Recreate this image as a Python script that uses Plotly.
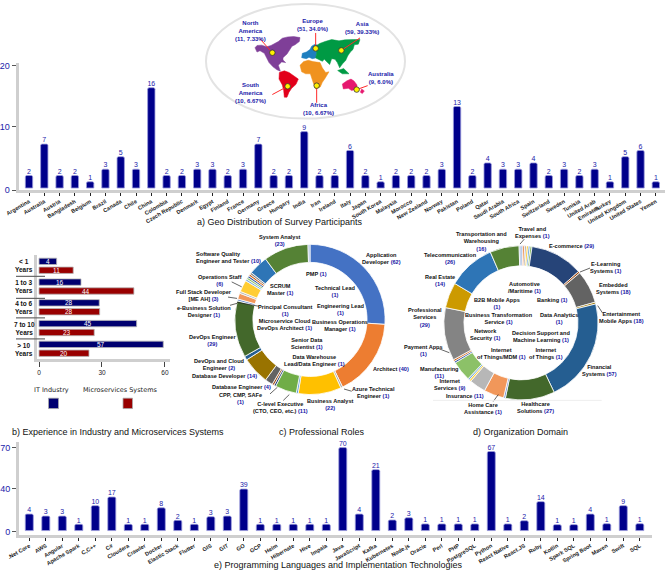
import plotly.graph_objects as go

W, H = 671, 582
FONT = "Liberation Sans"
NAVY = "#00008B"
RED = "#990000"
BLUE_TXT = "#2222AA"
COUNT_BLUE = "#1515A5"

# ---------- data ----------
countries = ["Argentina", "Australia", "Austria", "Bangladesh", "Belgium", "Brazil", "Canada", "Chile", "China",
             "Colombia", "Czech Republic", "Denmark", "Egypt", "Finland", "France", "Germany", "Greece", "Hungary",
             "India", "Iran", "Ireland", "Italy", "Japan", "South Korea", "Malaysia", "Morocco", "New Zealand",
             "Norway", "Pakistan", "Poland", "Qatar", "Saudi Arabia", "South Africa", "Spain", "Switzerland",
             "Sweden", "Tunisia", "United Arab<br>Emirates", "Turkey", "United Kingdom", "United States", "Yemen"]
country_values = [2, 7, 2, 2, 1, 3, 5, 3, 16, 2, 2, 3, 3, 2, 3, 7, 2, 2, 9, 2, 2, 6, 2, 1, 2, 2, 2, 3, 13, 2, 4, 3, 3,
                  4, 2, 3, 2, 3, 1, 5, 6, 1]

exp_categories = ["< 1", "1 to 3", "4 to 6", "7 to 10", "> 10"]
exp_it_labels = [4, 16, 28, 45, 57]
exp_ms_labels = [11, 44, 28, 23, 20]
exp_it_lengths = [8.4, 20, 28.7, 46.5, 59.2]
exp_ms_lengths = [16.3, 45.2, 28.9, 26.3, 23.8]

tech_names = [".Net Core", "AWS", "Angular", "Apache Spark", "C,C++", "C#", "Cloudera", "Crawler", "Docker",
              "Elastic Stack", "Flutter", "GIS", "GIT", "GO", "GCP", "Helm", "Hibernate", "Hive", "Impala", "Java",
              "JavaScript", "Kafka", "Kubernetes", "Node.js", "Oracle", "Perl", "PHP", "PostgreSQL", "Python",
              "React Native", "React.JS", "Ruby", "Kotlin", "Spark SQL", "Spring Boot", "Maven", "Swift", "SQL"]
tech_labels = [4, 3, 3, 1, 10, 17, 1, 1, 8, 2, 1, 3, 3, 39, 1, 1, 1, 1, 1, 70, 4, 21, 2, 3, 1, 1, 1, 1, 67, 1, 2, 14,
               1, 1, 4, 1, 9, 1]
tech_heights = [13.9, 12.2, 12.2, 5.3, 21, 28.3, 5.3, 5.3, 19.2, 8.6, 5.3, 11.7, 12.2, 35, 5.3, 5.3, 5.3, 5.3, 5.3,
                70, 13.9, 51.4, 8.9, 10.8, 5.6, 5.6, 5.6, 5.6, 66.7, 5.6, 8.3, 24.4, 5, 5, 13.9, 5.8, 21, 5.8]

role_names = ["Application<br>Developer", "Architect", "Azure Technical<br>Engineer", "Business Analyst<br>",
              "Business Operations<br>Manager", "C-level Executive<br>(CTO, CEO, etc.)", "CPP, CMP, SAFe<br>",
              "Data Warehouse<br>Lead/Data Engineer", "Database Engineer", "Database Developer",
              "DevOps and Cloud<br>Engineer", "DevOps Engineer<br>", "e-Business Solution<br>Designer",
              "Full Stack Developer<br>[ME AH]", "Microservice Cloud<br>DevOps Architect", "Operations Staff<br>",
              "PMP", "Principal Consultant<br>", "Senior Data<br>Scientist", "SCRUM<br>Master",
              "Engineering Lead<br>", "Software Quality<br>Engineer and Tester", "System Analyst<br>",
              "Technical Lead<br>"]
role_values = [62, 40, 1, 22, 1, 11, 1, 1, 4, 14, 2, 29, 1, 3, 1, 6, 1, 1, 1, 1, 1, 10, 23, 1]
role_colors = ["#4472C4", "#ED7D31", "#A5A5A5", "#FFC000", "#5B9BD5", "#70AD47", "#264478", "#9E480E", "#636363",
               "#997300", "#255E91", "#43682B", "#698ED0", "#F1975A", "#B7B7B7", "#FFCD33", "#7CAFDD", "#8CC168",
               "#335AA1", "#D26012", "#848484", "#2E75B6", "#558235", "#A3B9DE"]

domain_names = ["Automotive<br>/Maritime", "B2B Mobile Apps<br>", "Banking", "Business Transformation<br>Service",
                "Data Analytics<br>", "Decision Support and<br>Machine Learning", "E-commerce", "E-Learning<br>Systems",
                "Embedded<br>Systems", "Entertainment<br>Mobile Apps", "Financial<br>Systems", "Healthcare<br>Solutions",
                "Home Care<br>Assistance", "Insurance", "Internet<br>Services", "Internet<br>of Things",
                "Internet<br>of Things/MDM", "Manufacturing<br>", "Network<br>Security", "Payment Apps<br>",
                "Professional<br>Services<br>", "Real Estate<br>", "Telecommunication<br>",
                "Transportation and<br>Warehousing<br>", "Travel and<br>Expenses"]
domain_values = [1, 1, 1, 1, 1, 1, 29, 1, 18, 1, 57, 27, 1, 11, 9, 1, 1, 11, 1, 1, 29, 14, 26, 16, 1]
domain_shown = [1, 1, 1, 1, 1, 1, 29, 1, 18, 18, 57, 27, 1, 11, 9, 1, 1, 11, 1, 1, 29, 14, 26, 16, 1]
domain_colors = ["#4472C4", "#ED7D31", "#A5A5A5", "#FFC000", "#5B9BD5", "#70AD47", "#264478", "#9E480E", "#636363",
                 "#997300", "#255E91", "#43682B", "#698ED0", "#F1975A", "#B7B7B7", "#FFCD33", "#7CAFDD", "#8CC168",
                 "#335AA1", "#D26012", "#848484", "#CC9A00", "#2E75B6", "#558235", "#A3B9DE"]

# World map outlines (rough, in map units)
map_north_america = [(30, 55), (36, 48), (50, 47), (65, 52), (78, 48), (88, 42), (100, 36), (112, 26), (128, 22),
                     (146, 21), (165, 24), (163, 36), (150, 46), (141, 50), (132, 66), (126, 74), (114, 85),
                     (114, 92), (122, 100), (110, 98), (100, 108), (106, 126), (96, 122), (84, 113), (72, 100),
                     (64, 84), (58, 72), (45, 64), (36, 68)]
map_south_america = [(103, 130), (118, 125), (132, 130), (146, 140), (160, 150), (153, 166), (140, 178), (132, 190),
                     (126, 205), (118, 205), (116, 185), (112, 168), (102, 150)]
map_africa = [(165, 108), (176, 97), (190, 93), (204, 97), (225, 100), (232, 116), (242, 130), (252, 128),
              (240, 148), (232, 160), (226, 174), (212, 180), (206, 165), (200, 145), (196, 134), (182, 134),
              (170, 128)]
map_europe = [(170, 85), (172, 72), (184, 68), (195, 60), (200, 50), (210, 44), (220, 48), (215, 70), (212, 86),
              (202, 88), (192, 84), (184, 88)]
map_asia = [(212, 50), (224, 42), (240, 36), (260, 30), (282, 34), (300, 31), (325, 30), (345, 30), (340, 44),
            (328, 46), (324, 60), (316, 68), (308, 80), (302, 94), (292, 104), (284, 116), (277, 100), (270, 90),
            (260, 88), (254, 106), (246, 98), (238, 90), (232, 96), (222, 90), (212, 86), (215, 70)]
map_indonesia = [(278, 124), (296, 118), (312, 134), (292, 134)]
map_australia = [(292, 165), (306, 155), (318, 150), (327, 156), (336, 168), (336, 180), (320, 185), (310, 178),
                 (295, 180)]
map_new_zealand = [(350, 180), (358, 186), (352, 194), (346, 190)]
continent_names = ["North<br>America", "Europe", "Asia", "South<br>America", "Africa", "Australia"]
continent_counts = ["(11, 7.33%)", "(51, 34.0%)", "(59, 39.33%)", "(10, 6.67%)", "(10, 6.67%)", "(9, 6.0%)"]
continent_points = [(82, 70), (212, 57), (289, 63), (128, 172), (215, 170), (335, 182)]
continent_leaders = [(45, 28), (212, 10), (345, 25), (82, 197), (215, 222), (368, 170)]


# ---------- helpers ----------
def px_x(x):
    return x / W


def px_y(y):
    return 1 - y / H


annotations = []
shapes = []


def note(x, y, text, size=5.6, color="#111111", family=FONT, xanchor="center", align="center"):
    annotations.append(dict(x=px_x(x), y=px_y(y), xref="paper", yref="paper", text=text, showarrow=False,
                            xanchor=xanchor, yanchor="middle", align=align,
                            font=dict(family=family, size=size, color=color)))


def seg(x0, y0, x1, y1, color="#222222", width=0.7):
    shapes.append(dict(type="line", xref="paper", yref="paper", x0=px_x(x0), y0=px_y(y0), x1=px_x(x1), y1=px_y(y1),
                       line=dict(color=color, width=width)))


def count_label(name, n):
    sep = "" if name.endswith("<br>") else " "
    head = "<br>".join(f"<b>{p}</b>" if p else "" for p in name.split("<br>"))
    return f"{head}{sep}<span style='color:{COUNT_BLUE}'><b>({n})</b></span>"


fig = go.Figure()
axis_line = dict(showline=True, linecolor="#CFCFCF", linewidth=3, showgrid=False, zeroline=False)
y_tick = dict(ticks="outside", ticklen=4, tickwidth=1, tickcolor="#555555",
              tickfont=dict(family=FONT, size=9, color=BLUE_TXT), tickmode="array")
x_tick = dict(ticks="outside", ticklen=3, tickwidth=1, tickcolor="#222222", tickangle=-30,
              tickfont=dict(family=FONT, size=5.6, weight="bold", color="#222222"), automargin=False,
              tickmode="linear", dtick=1)

# ---------- a) countries ----------
fig.add_trace(go.Bar(x=countries, y=country_values, width=0.48,
                     marker=dict(color=NAVY, line=dict(color="#9A9ADC", width=0.8), cornerradius=1.5),
                     xaxis="x", yaxis="y", showlegend=False))
fig.add_trace(go.Scatter(x=countries, y=country_values, text=country_values, mode="text", textposition="top center",
                         textfont=dict(family=FONT, size=7, color=BLUE_TXT), cliponaxis=False,
                         xaxis="x", yaxis="y", showlegend=False))

# ---------- b) experience ----------
fig.add_trace(go.Bar(y=exp_categories, x=exp_it_lengths, orientation="h", xaxis="x2", yaxis="y2", showlegend=False,
                     marker=dict(color="#000070", line=dict(color="#B8B8B8", width=0.8))))
fig.add_trace(go.Bar(y=exp_categories, x=exp_ms_lengths, orientation="h", xaxis="x2", yaxis="y2", showlegend=False,
                     marker=dict(color=RED, line=dict(color="#B8B8B8", width=0.8))))
for cat, n_it, n_ms, l_it, l_ms in zip(exp_categories, exp_it_labels, exp_ms_labels, exp_it_lengths, exp_ms_lengths):
    for n, length, shift in ((n_it, l_it, 4.5), (n_ms, l_ms, -4.5)):
        annotations.append(dict(x=length / 2, y=cat, xref="x2", yref="y2", yshift=shift, text=str(n),
                                showarrow=False, font=dict(family=FONT, size=6.5, color="white")))
exp_label_y = [266.7, 288.3, 309.3, 330.3, 351.3]
for cat, y in zip(exp_categories, exp_label_y):
    note(24, y, f"<b>{cat.replace('<', '&lt;')}<br>Years</b>", size=6.5)

# ---------- e) technologies ----------
fig.add_trace(go.Bar(x=tech_names, y=tech_heights, width=0.485,
                     marker=dict(color=NAVY, line=dict(color="#9A9ADC", width=0.8), cornerradius=1.5),
                     xaxis="x3", yaxis="y3", showlegend=False))
fig.add_trace(go.Scatter(x=tech_names, y=tech_heights, text=tech_labels, mode="text", textposition="top center",
                         textfont=dict(family=FONT, size=7, color=BLUE_TXT), cliponaxis=False,
                         xaxis="x3", yaxis="y3", showlegend=False))

# ---------- c) roles ----------
fig.add_trace(go.Pie(labels=[n.replace("<br>", " ").strip() for n in role_names], values=role_values, sort=False,
                     direction="clockwise", rotation=0, hole=0.76, textinfo="none", showlegend=False,
                     marker=dict(colors=role_colors, line=dict(color="white", width=0.8)),
                     domain=dict(x=[px_x(234), px_x(386)], y=[px_y(397.3), px_y(245.3)])))

# ---------- d) domains ----------
fig.add_trace(go.Pie(labels=[n.replace("<br>", " ").strip() for n in domain_names], values=domain_values, sort=False,
                     direction="clockwise", rotation=0, hole=0.74, textinfo="none", showlegend=False,
                     marker=dict(colors=domain_colors, line=dict(color="white", width=0.8)),
                     domain=dict(x=[px_x(442.7), px_x(599.3)], y=[px_y(402.7), px_y(246.7)])))

# ---------- world map ----------
shapes.append(dict(type="circle", xref="paper", yref="paper", x0=px_x(206), x1=px_x(405), y0=px_y(118), y1=px_y(2),
                   line=dict(color="#E3E3E3", width=2), fillcolor="white", layer="below"))
continents = [(map_north_america, "#7F3F98"), (map_south_america, "#E2001A"), (map_africa, "#F0921E"),
              (map_europe, "#1F7FBF"), (map_asia, "#009A44"), (map_indonesia, "#009A44"), (map_australia, "#E6186F"),
              (map_new_zealand, "#E6186F")]
for poly, color in continents:
    fig.add_trace(go.Scatter(x=[p[0] for p in poly] + [poly[0][0]], y=[p[1] for p in poly] + [poly[0][1]],
                             fill="toself", fillcolor=color, mode="lines", line=dict(color=color, width=0.5),
                             xaxis="x4", yaxis="y4", showlegend=False, hoverinfo="skip"))
for (px0, py0), (px1, py1) in zip(continent_points, continent_leaders):
    fig.add_trace(go.Scatter(x=[px0, px1], y=[py0, py1], mode="lines", line=dict(color="#FF2A2A", width=1),
                             xaxis="x4", yaxis="y4", showlegend=False, hoverinfo="skip", cliponaxis=False))
fig.add_trace(go.Scatter(x=[p[0] for p in continent_points], y=[p[1] for p in continent_points], mode="markers",
                         marker=dict(color="#FFF200", size=5.5, line=dict(color="#333333", width=0.8)),
                         xaxis="x4", yaxis="y4", showlegend=False, cliponaxis=False))

continent_pos = [(250.4, 29.3), (312.5, 23.3), (362, 26), (250, 91.7), (318, 108), (381, 77)]
for name, cnt, (x, y) in zip(continent_names, continent_counts, continent_pos):
    note(x, y, f"<b>{name}<br>{cnt}</b>", size=6, color=BLUE_TXT)

# pie labels
role_pos = [(382, 260), (390.6, 371), (374, 395), (330, 407), (340, 327), (280, 410.3), (240, 401),
            (314.7, 362.7), (241, 389.3), (224, 379), (220, 366.7), (212, 342.7), (204, 313.5), (204, 297.5),
            (284, 326.8), (219.7, 282.3), (316.7, 275), (285.7, 312.5), (306.7, 345.8), (280.7, 291),
            (341, 310.8), (194.3, 258.3), (280, 241), (335, 292.7)]
for i, (name, val, (x, y)) in enumerate(zip(role_names, role_values, role_pos)):
    if i == 21:
        note(x, y, count_label(name, val), xanchor="left", align="left")
    else:
        note(x, y, count_label(name, val))

domain_pos = [(524.3, 288.7), (496.7, 305), (552.3, 302), (499.3, 320), (559, 320), (541.3, 338.7), (571, 247),
              (605.7, 268.7), (613.3, 290), (621.3, 319.2), (599, 372.7), (535, 410.5), (483.3, 411.7), (464.7, 399.3),
              (450, 387.2), (546, 355.8), (501, 355.8), (439, 374.8), (485.7, 336.7), (423.3, 353.2), (425.3, 319.7),
              (440, 281.5), (450, 259.7), (481.7, 242.3), (532, 233.3)]
for name, val, (x, y) in zip(domain_names, domain_shown, domain_pos):
    note(x, y, count_label(name, val))

# leader lines
for a, b, c, d in [(231.7, 283.3, 241.7, 288.3), (228, 298.7, 237, 300), (230, 307, 237, 305), (259, 308, 237, 304),
                   (344, 391.7, 351.7, 394), (283.3, 403.3, 289.3, 397.3), (270, 396.7, 277.3, 390),
                   (520, 245, 524.3, 240), (580, 273.3, 590, 269.3), (597.7, 307.3, 602.7, 315),
                   (498.3, 397.3, 493.3, 404.3), (438.3, 350.7, 449.3, 355)]:
    seg(a, b, c, d)
seg(433, 403.2, 601.7, 403.2, color="#EEEEEE", width=1)

# b) separators
for y in (277.7, 300, 319.7, 341):
    seg(16, y, 45, y, color="#666666", width=1.2)

# b) legend
note(51, 392.7, "IT Industry", size=6.5, color="#222222", family="DejaVu Sans")
note(120, 392.7, "Microservices Systems", size=6.5, color="#222222", family="DejaVu Sans")
for x0, x1, color in ((48.5, 58.5, "#000070"), (123, 132.5, RED)):
    shapes.append(dict(type="rect", xref="paper", yref="paper", x0=px_x(x0), x1=px_x(x1), y0=px_y(411.5), y1=px_y(401),
                       fillcolor=color, line=dict(color="#AAAAAA", width=0.8)))

# captions
cap = dict(size=9, color="#111111")
note(280, 222.7, "a) Geo Distribution of Survey Participants", **cap)
note(118, 435, "b) Experience in Industry and Microservices Systems", **cap)
note(322, 435, "c) Professional Roles", **cap)
note(520.5, 435, "d) Organization Domain", **cap)
note(337.5, 570, "e) Programming Languages and Implementation Technologies", **cap)

fig.update_layout(
    width=W, height=H, margin=dict(l=0, r=0, t=0, b=0), autosize=False,
    paper_bgcolor="white", plot_bgcolor="rgba(0,0,0,0)", barmode="group", bargap=0.143, bargroupgap=0.28,
    font=dict(family=FONT), hovermode=False,
    annotations=annotations, shapes=shapes,
    xaxis=dict(domain=[px_x(18.5), px_x(665)], anchor="y", type="category", range=[-0.687, 41.6], **axis_line, **x_tick),
    yaxis=dict(domain=[px_y(190.5), px_y(62)], anchor="x", range=[-0.35, 19.9], tickvals=[-0.35, 9.76, 19.5],
               ticktext=["0", "10", "20"], **axis_line, **y_tick),
    xaxis2=dict(domain=[px_x(36.5), px_x(170)], anchor="y2", range=[-1.2, 62.4], tickvals=[0, 30, 60], ticks="outside",
                ticklen=5, tickwidth=1.2, tickcolor="#444444", tickfont=dict(family=FONT, size=6.5, color="#222222"),
                **axis_line),
    yaxis2=dict(domain=[px_y(361.5), px_y(256.5)], anchor="x2", type="category", range=[4.5, -0.5], showticklabels=False,
                ticks="", **axis_line),
    xaxis3=dict(domain=[px_x(19), px_x(652)], anchor="y3", type="category", range=[-0.624, 37.74], **axis_line, **x_tick),
    yaxis3=dict(domain=[px_y(539), px_y(445)], anchor="x3", range=[-3.33, 75], tickvals=[-0.83, 35.25, 70],
                ticktext=["0", "40", "70"], **axis_line, **y_tick),
    xaxis4=dict(domain=[px_x(245), px_x(370)], anchor="y4", range=[0, 375], visible=False),
    yaxis4=dict(domain=[px_y(103), px_y(28)], anchor="x4", range=[225, 0], visible=False),
)

fig.write_html("out.html", config=dict(displayModeBar=False), post_script="document.body.style.margin='0';")
